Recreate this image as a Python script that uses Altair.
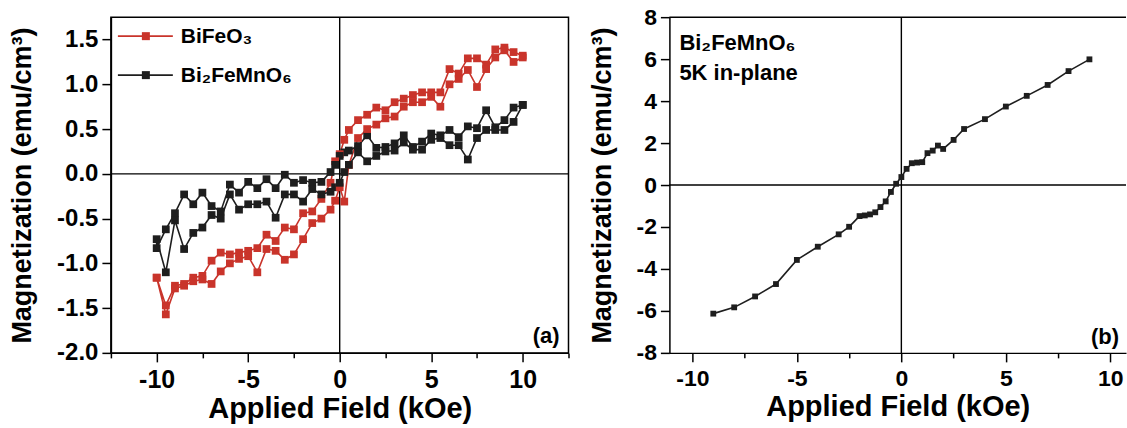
import altair as alt
import pandas as pd

SERIES = ["BiFeO₃", "Bi₂FeMnO₆"]
COLORS = ["#c9342b", "#1e1e1e"]
FONT = "Liberation Sans"

# ---- panel (a): hysteresis loops, field swept 10 -> -10 -> 10 kOe ----
FIELD_DOWN = [10, 9.5, 9, 8.5, 8, 7.5, 7, 6.5, 6, 5.5, 5, 4.5, 4, 3.5, 3, 2.5, 2, 1.5, 1, 0.5,
              0.25, 0, -0.25,
              -0.5, -1, -1.5, -2, -2.5, -3, -3.5, -4, -4.5, -5, -5.5, -6, -6.5, -7, -7.5, -8, -8.5,
              -9, -9.5, -10]
FIELD_UP = [-10, -9.5, -9, -8.5, -8, -7.5, -7, -6.5, -6, -5.5, -5, -4.5, -4, -3.5, -3, -2.5, -2,
            -1.5, -1, -0.5, -0.25, 0, 0.25,
            0.5, 1, 1.5, 2, 2.5, 3, 3.5, 4, 4.5, 5, 5.5, 6, 6.5, 7, 7.5, 8, 8.5, 9, 9.5, 10]

BFO_DOWN = [1.32, 1.36, 1.41, 1.39, 1.22, 1.29, 1.29, 1.12, 1.17, 0.91, 0.91, 0.91, 0.88, 0.84,
            0.80, 0.71, 0.74, 0.66, 0.60, 0.49, 0.38, 0.22, 0.14, -0.10, -0.28, -0.42, -0.44,
            -0.62, -0.60, -0.75, -0.68, -0.83, -0.86, -0.88, -0.90, -0.88, -0.97, -1.14, -1.16,
            -1.23, -1.25, -1.47, -1.16]
BFO_UP = [-1.16, -1.57, -1.28, -1.25, -1.20, -1.18, -1.23, -1.09, -1.00, -0.95, -0.92, -1.10,
          -0.84, -0.86, -0.96, -0.90, -0.73, -0.55, -0.50, -0.40, -0.30, -0.15, -0.31, 0.10, 0.40,
          0.50, 0.55, 0.62, 0.64, 0.75, 0.80, 0.80, 0.86, 0.75, 1.00, 1.06, 1.16, 0.97, 1.17,
          1.30, 1.38, 1.25, 1.30]
BFMO_DOWN = [0.77, 0.74, 0.60, 0.52, 0.71, 0.51, 0.53, 0.41, 0.49, 0.43, 0.45, 0.36, 0.30, 0.43,
             0.34, 0.30, 0.29, 0.43, 0.31, 0.26, 0.24, 0.20, 0.10, 0.02, -0.09, -0.10, -0.07,
             -0.10, -0.01, -0.16, -0.06, -0.16, -0.09, -0.21, -0.12, -0.42, -0.36, -0.21, -0.34,
             -0.23, -0.44, -0.62, -0.83]
BFMO_UP = [-0.73, -1.10, -0.52, -0.84, -0.66, -0.60, -0.46, -0.50, -0.23, -0.40, -0.34, -0.34,
           -0.31, -0.49, -0.23, -0.23, -0.31, -0.17, -0.23, -0.20, -0.15, -0.10, 0.02, 0.10,
           0.24, 0.14, 0.20, 0.25, 0.26, 0.35, 0.27, 0.27, 0.38, 0.40, 0.32, 0.32, 0.16, 0.40,
           0.49, 0.49, 0.49, 0.58, 0.77]

# ---- panel (b): Bi2FeMnO6, 5 K in-plane ----
B_FIELD = [-9, -8, -7, -6, -5, -4, -3, -2.5, -2, -1.75, -1.5, -1.25, -1, -0.75, -0.5, -0.25, 0,
           0.25, 0.5, 0.75, 1, 1.25, 1.5, 1.75, 2, 2.5, 3, 4, 5, 6, 7, 8, 9]
B_M = [-6.13, -5.83, -5.31, -4.72, -3.57, -2.94, -2.35, -1.99, -1.48, -1.45, -1.40, -1.30, -1.05,
       -0.78, -0.33, 0.06, 0.38, 0.77, 1.04, 1.07, 1.09, 1.52, 1.64, 1.88, 1.72, 2.15, 2.67,
       3.14, 3.74, 4.25, 4.77, 5.43, 5.99]

rows = []
for name, down, up in [(SERIES[0], BFO_DOWN, BFO_UP), (SERIES[1], BFMO_DOWN, BFMO_UP)]:
    xs = FIELD_DOWN + FIELD_UP
    ys = down + up
    for i, (x, y) in enumerate(zip(xs, ys)):
        rows.append({"series": name, "field": x, "m": y, "idx": i})
df_a = pd.DataFrame(rows)
df_b = pd.DataFrame({"field": B_FIELD, "m": B_M, "idx": list(range(len(B_FIELD)))})
one = pd.DataFrame({"k": [0]})

W_A, W_B, H = 458, 457, 336
YTITLE = "Magnetization (emu/cm³)"
XTITLE = "Applied Field (kOe)"

MAJ, MIN = 9, 5


def tick_cond(test):
    return {"condition": {"test": test, "value": MIN}, "value": MAJ}


minor_half = "abs(datum.value*2 - round(datum.value*2)) > 0.01"

xaxis_a = alt.Axis(
    values=[-12.5, -10, -7.5, -5, -2.5, 0, 2.5, 5, 7.5, 10, 12.5],
    labelExpr="datum.value % 5 != 0 ? '' : toString(datum.value)",
    tickSize=tick_cond("datum.value % 5 != 0"),
    title=XTITLE, labelFlush=False, labelFontSize=25,
)
yaxis_a = alt.Axis(
    values=[-2, -1.75, -1.5, -1.25, -1, -0.75, -0.5, -0.25, 0, 0.25, 0.5, 0.75, 1, 1.25, 1.5, 1.75],
    labelExpr=minor_half + " ? '' : replace(format(datum.value, '.1f'), '\u2212', '-')",
    tickSize=tick_cond(minor_half),
    title=YTITLE, labelFlush=False, labelFontSize=24,
)

xs_a = alt.Scale(domain=[-12.5, 12.5], nice=False, zero=False)
ys_a = alt.Scale(domain=[-2, 1.75], nice=False, zero=False)
cscale = alt.Scale(domain=SERIES, range=COLORS)

base_a = alt.Chart(df_a).encode(
    x=alt.X("field:Q", scale=xs_a, axis=xaxis_a),
    y=alt.Y("m:Q", scale=ys_a, axis=yaxis_a),
    order=alt.Order("idx:Q"),
)
lines_a = base_a.mark_line(strokeWidth=1.6).encode(
    color=alt.Color("series:N", scale=cscale, legend=None)
)
points_a = base_a.mark_point(shape="square", filled=True, size=60, opacity=1).encode(
    color=alt.Color("series:N", scale=cscale, legend=None),
)
zero_h_a = alt.Chart(one).mark_rule(color="black", strokeWidth=1.4).encode(y=alt.datum(0))
zero_v_a = alt.Chart(one).mark_rule(color="black", strokeWidth=1.4).encode(x=alt.datum(0))
label_a = alt.Chart(one).mark_text(
    text="(a)", align="right", baseline="alphabetic", fontSize=22, font=FONT, fontWeight="bold",
    color="black",
).encode(x=alt.value(W_A - 9), y=alt.value(H - 10))

# in-plot legend (line - square - line, then the compound name)
legend_layers = []
for i, (name, col) in enumerate(zip(SERIES, COLORS)):
    row_y = 19 + 39 * i
    legend_layers.append(
        alt.Chart(one).mark_rule(color=col, strokeWidth=1.6).encode(
            x=alt.value(7), x2=alt.value(62), y=alt.value(row_y)
        )
    )
    legend_layers.append(
        alt.Chart(one).mark_point(shape="square", filled=True, size=64, opacity=1, color=col).encode(
            x=alt.value(35), y=alt.value(row_y)
        )
    )
    legend_layers.append(
        alt.Chart(one).mark_text(
            text=name, align="left", baseline="alphabetic", fontSize=21, font=FONT,
            fontWeight="bold", color="black",
        ).encode(x=alt.value(70), y=alt.value(row_y + 7))
    )

panel_a = alt.layer(zero_h_a, zero_v_a, lines_a, points_a, label_a, *legend_layers).properties(
    width=W_A, height=H, view=alt.ViewBackground(stroke="black", strokeWidth=1.5)
)

# ---- panel (b) ----
xaxis_b = alt.Axis(
    values=[-10, -7.5, -5, -2.5, 0, 2.5, 5, 7.5, 10],
    labelExpr="datum.value % 5 != 0 ? '' : toString(datum.value)",
    tickSize=tick_cond("datum.value % 5 != 0"),
    title=XTITLE, labelFlush=False, labelFontSize=23,
)
yaxis_b = alt.Axis(
    values=[-8, -7, -6, -5, -4, -3, -2, -1, 0, 1, 2, 3, 4, 5, 6, 7, 8],
    labelExpr="datum.value % 2 != 0 ? '' : toString(datum.value)",
    tickSize=tick_cond("datum.value % 2 != 0"),
    title=YTITLE, labelFlush=False, labelFontSize=23,
)
xs_b = alt.Scale(domain=[-11.1, 10.75], nice=False, zero=False)
ys_b = alt.Scale(domain=[-8, 8], nice=False, zero=False)

base_b = alt.Chart(df_b).encode(
    x=alt.X("field:Q", scale=xs_b, axis=xaxis_b),
    y=alt.Y("m:Q", scale=ys_b, axis=yaxis_b),
    order=alt.Order("idx:Q"),
)
line_b = base_b.mark_line(color="#1e1e1e", strokeWidth=1.6)
pts_b = base_b.mark_point(shape="square", filled=True, size=34, opacity=1, color="#1e1e1e")
zero_h_b = alt.Chart(one).mark_rule(color="black", strokeWidth=1.4).encode(y=alt.datum(0))
zero_v_b = alt.Chart(one).mark_rule(color="black", strokeWidth=1.4).encode(x=alt.datum(0))
top_b = alt.Chart(one).mark_rule(color="black", strokeWidth=1.5).encode(y=alt.datum(8))
txt_b1 = alt.Chart(one).mark_text(
    text="Bi₂FeMnO₆", align="left", baseline="alphabetic", fontSize=22, font=FONT,
    fontWeight="bold", color="black",
).encode(x=alt.value(10), y=alt.value(33))
txt_b2 = alt.Chart(one).mark_text(
    text="5K in-plane", align="left", baseline="alphabetic", fontSize=22, font=FONT,
    fontWeight="bold", color="black",
).encode(x=alt.value(10), y=alt.value(63))
label_b = alt.Chart(one).mark_text(
    text="(b)", align="right", baseline="alphabetic", fontSize=22, font=FONT, fontWeight="bold",
    color="black",
).encode(x=alt.value(W_B - 7), y=alt.value(H - 9))

panel_b = alt.layer(zero_h_b, zero_v_b, top_b, line_b, pts_b, txt_b1, txt_b2, label_b).properties(
    width=W_B, height=H
)

chart = (
    alt.hconcat(panel_a, panel_b, spacing=17)
    .resolve_scale(color="independent")
    .properties(padding={"left": 7, "top": 6, "right": 0, "bottom": 0}, background="white")
    .configure_view(stroke=None)
    .configure_axis(
        grid=False,
        labelFont=FONT, labelFontWeight="bold", labelColor="black",
        titleFont=FONT, titleFontWeight="bold", titleColor="black",
        domainColor="black", domainWidth=1.5, tickColor="black", tickWidth=1.5,
    )
    .configure_axisX(titleFontSize=29, titlePadding=2, labelPadding=6)
    .configure_axisY(titleFontSize=27, titlePadding=20, labelPadding=4)
)

chart.save("out.html", embed_options={"renderer": "svg", "actions": False})
